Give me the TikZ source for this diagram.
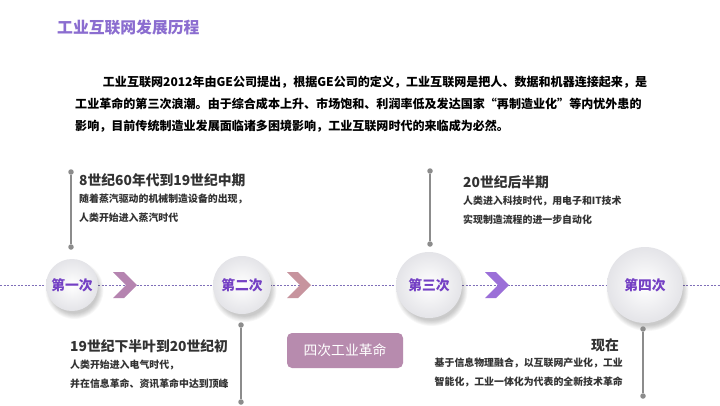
\documentclass[tikz,border=0pt]{standalone}
\usepackage{fontspec}
\setmainfont{Noto Sans CJK SC}
\usepackage{tikz}
\usepackage{xcolor}
\usetikzlibrary{
    calc,
    positioning,
    shapes
}
\definecolor{titlepurple}{HTML}{8B6DD0}
\definecolor{textdark}{HTML}{333333}
\definecolor{labelpurple}{HTML}{7440C4}
\definecolor{dashpurple}{HTML}{7F6FB8}
\definecolor{chevA}{HTML}{B584B0}
\definecolor{chevB}{HTML}{C7949E}
\definecolor{chevC}{HTML}{9B6FD8}
\definecolor{btnmauve}{HTML}{B78BAE}
\definecolor{dotgray}{HTML}{8C8C8C}

\tikzset{
    stage/.style={circle, inner sep=0pt, shading=radial,
        inner color=white, outer color={rgb,255:red,228;green,228;blue,232},
        text=labelpurple, font=\fontsize{13.8}{14}\selectfont\bfseries},
    period/.style={anchor=west, inner sep=0pt, text=textdark,
        font=\fontsize{13.8}{16}\selectfont\bfseries},
    detail/.style={inner sep=0pt, text=textdark,
        font=\fontsize{9.9}{18.5}\selectfont\bfseries},
    pin/.style={circle, fill=dotgray, inner sep=0pt, minimum size=5.5pt},
    stem/.style={dotgray, line width=1.3pt}
}

\begin{document}
\begin{tikzpicture}[x=1pt, y=-1pt]
    \useasboundingbox[fill=white] (0,0) rectangle (720,405);

    % heading and intro
    \node[anchor=west, inner sep=0pt, text=titlepurple,
        font=\fontsize{15.8}{16}\selectfont\bfseries] (title) at (57,28) {工业互联网发展历程};
    \node[anchor=north west, inner sep=0pt, align=left, text=black,
        font=\fontsize{12.05}{22}\selectfont\bfseries] (intro) at (75,76)
        {\hspace*{2.3em}工业互联网2012年由GE公司提出，根据GE公司的定义，工业互联网是把人、数据和机器连接起来，是\\
         工业革命的第三次浪潮。由于综合成本上升、市场饱和、利润率低及发达国家“再制造业化”等内忧外患的\\
         影响，目前传统制造业发展面临诸多困境影响，工业互联网时代的来临成为必然。};

    % timeline
    \coordinate (lineL) at (0,285);
    \coordinate (lineR) at (720,285);
    \draw[dashpurple, line width=0.8pt, dash pattern=on 2pt off 1.5pt] (lineL) -- (lineR);

    \foreach \name/\x/\r/\lab in {c1/72/26/第一次, c2/242/29/第二次, c3/429/33/第三次, c4/645/38/第四次} {
        \foreach \k in {0,...,6}
            \fill[black, opacity=0.03] (\x+2.5,285+5) circle ({\r+3-\k*0.9});
        \node[stage, minimum size=2*\r] (\name) at (\x,285) {\lab};
    }

    % chevrons
    \foreach \name/\x/\col in {ch1/113/chevA, ch2/287/chevB, ch3/485/chevC} {
        \fill[\col] (\x,272) -- ++(11,0) -- ++(13,13) -- ++(-13,13) -- ++(-11,0) -- ++(13,-13) -- cycle;
        \coordinate (\name) at (\x+12,285);
    }

    % first
    \node[pin] (p1a) at (71,172) {};
    \node[pin] (p1b) at (71,247) {};
    \draw[stem] (p1a) -- (p1b);
    \node[period] (t1) at (79,180) {8世纪60年代到19世纪中期};
    \node[detail, anchor=north west, align=left] (s1) at (79,194)
        {随着蒸汽驱动的机械制造设备的出现，\\人类开始进入蒸汽时代};

    % second
    \node[pin] (p2a) at (241,325) {};
    \node[pin] (p2b) at (241,402) {};
    \draw[stem] (p2a) -- (p2b);
    \node[period] (t2) at (70,346) {19世纪下半叶到20世纪初};
    \node[detail, anchor=north west, align=left] (s2) at (70,360)
        {人类开始进入电气时代，\\并在信息革命、资讯革命中达到顶峰};

    % third
    \node[pin] (p3a) at (430,171) {};
    \node[pin] (p3b) at (430,244) {};
    \draw[stem] (p3a) -- (p3b);
    \node[period] (t3) at (463,182) {20世纪后半期};
    \node[detail, anchor=north west, align=left] (s3) at (463,196)
        {人类进入科技时代，用电子和IT技术\\实现制造流程的进一步自动化};

    % fourth
    \node[pin] (p4a) at (643,329) {};
    \node[pin] (p4b) at (643,396) {};
    \draw[stem] (p4a) -- (p4b);
    \node[period, anchor=east] (t4) at (619,345) {现在};
    \node[detail, anchor=north east, align=right] (s4) at (623,358)
        {基于信息物理融合，以互联网产业化，工业\\智能化，工业一体化为代表的全新技术革命};

    % button
    \node[fill=btnmauve, rounded corners=5pt, minimum width=116pt, minimum height=35pt,
        text=white, font=\fontsize{13.8}{14}\selectfont] (tag) at (345,350.5) {四次工业革命};
\end{tikzpicture}
\end{document}
